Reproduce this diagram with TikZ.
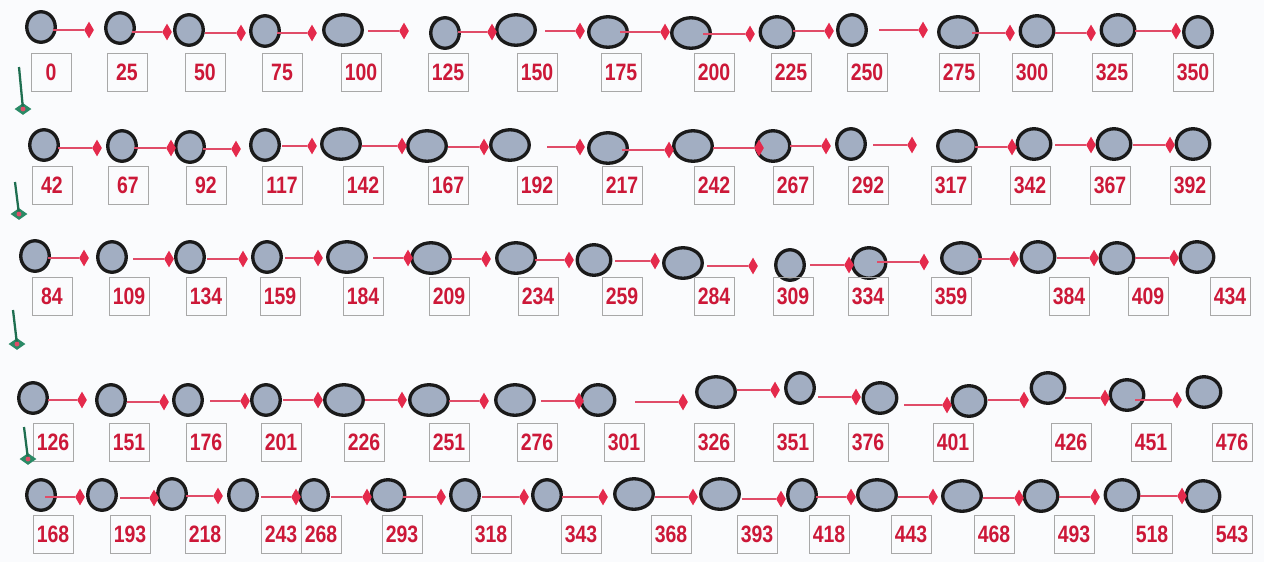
\documentclass[tikz,border=0pt]{standalone}
\usepackage{fontspec}
\usepackage{xcolor}
\usepackage{tikz}
\usetikzlibrary{shapes.geometric}
\newfontfamily\numfont{Liberation Sans}[FakeStretch=0.82]
\definecolor{ballfill}{HTML}{A2AEC2}
\definecolor{ballline}{HTML}{1A1A1A}
\definecolor{linkred}{HTML}{E04C68}
\definecolor{gemred}{HTML}{E42A4C}
\definecolor{numred}{HTML}{CC1838}
\definecolor{tagline}{HTML}{A8A8A8}
\definecolor{poleg}{HTML}{1E6E50}
\definecolor{footg}{HTML}{2A8A66}
\definecolor{paper}{HTML}{FAFBFD}
\pgfdeclarelayer{back}
\pgfsetlayers{back,main}

\begin{document}
\begin{tikzpicture}[
        x=0.02cm, y=-0.02cm,
        ball/.style={ellipse, draw=ballline, line width=1.9pt, fill=ballfill, inner sep=0pt, minimum height=0.61cm},
        nball/.style={ball, minimum width=0.57cm},
        mball/.style={ball, minimum width=0.67cm},
        wball/.style={ball, minimum width=0.77cm},
        gem/.style={diamond, fill=gemred, inner sep=0pt, minimum width=0.2cm, minimum height=0.34cm},
        link/.style={draw=linkred, line width=1.1pt},
        tag/.style={draw=tagline, line width=0.5pt, minimum width=0.8cm, minimum height=0.76cm, inner sep=0pt,
            text=numred, font=\numfont\bfseries\fontsize{13.5}{14}\selectfont},
        post/.style={draw=poleg, line width=1.3pt},
        foot/.style={diamond, fill=footg, inner sep=0pt, minimum width=0.34cm, minimum height=0.24cm},
    ]
    \begin{pgfonlayer}{back}
        \fill[paper] (0,0) rectangle (1264,562);
    \end{pgfonlayer}

    % balls with their links, one list per row
    \foreach \lab/\ex/\ey/\sh/\sx/\dx/\ly in {
            0/41/27/nball/53/89/30, 25/120/28/nball/132/167/32, 50/189/30/nball/205/241/33,
            75/265/31/nball/277/312/33, 100/343/30/wball/368/404/31, 125/445/33/nball/458/492/32,
            150/516/30/wball/545/580/31, 175/608/32/wball/620/665/32, 200/691/33/wball/703/750/34,
            225/777/32/mball/793/829/31, 250/852/30/nball/879/923/30, 275/958/32/wball/972/1010/33,
            300/1037/31/mball/1055/1091/33, 325/1118/30/mball/1135/1176/31,
            42/44/145/nball/58/97/148, 67/122/146/nball/134/171/148, 92/190/147/nball/203/236/149,
            117/265/145/nball/282/312/146, 142/341/144/wball/362/402/146, 167/427/146/wball/448/484/147,
            192/510/145/wball/547/580/147, 217/608/148/wball/622/669/150, 242/693/146/wball/713/759/148,
            267/773/146/mball/790/826/146, 292/851/144/nball/873/912/145, 317/957/146/wball/975/1012/147,
            342/1034/144/mball/1055/1091/145, 367/1114/144/mball/1133/1170/145,
            84/35/256/nball/48/84/258, 109/112/257/nball/133/169/259, 134/190/257/nball/207/243/259,
            159/267/257/nball/285/318/258, 184/347/257/wball/373/408/258, 209/431/258/wball/451/486/259,
            234/516/258/wball/535/569/260, 259/594/260/mball/615/655/261, 284/683/263/wball/707/753/266,
            309/790/265/nball/810/849/265, 334/869/263/mball/877/924/262, 359/961/258/wball/978/1014/259,
            384/1038/257/mball/1057/1094/258, 409/1117/258/mball/1135/1174/258,
            126/33/398/nball/48/82/400, 151/111/400/nball/127/164/402, 176/188/400/nball/210/245/401,
            201/266/400/nball/283/318/400, 226/344/400/wball/365/402/400, 251/429/400/wball/449/484/401,
            276/515/400/wball/541/579/401, 301/598/400/mball/635/683/402, 326/716/392/wball/737/775/390,
            351/800/388/nball/818/856/397, 376/880/398/mball/904/947/405, 401/969/401/mball/988/1024/400,
            426/1048/388/mball/1065/1105/398, 451/1127/395/mball/1135/1177/400,
            168/41/495/nball/45/80/497, 193/102/495/nball/120/154/498, 218/172/494/nball/186/218/496,
            243/243/495/nball/261/296/497, 268/314/495/nball/331/367/497, 293/388/495/mball/403/441/497,
            318/465/495/nball/482/524/497, 343/547/495/nball/562/603/497, 368/634/494/wball/655/693/497,
            393/720/494/wball/742/781/499, 418/802/495/nball/816/851/497, 443/877/495/wball/898/933/497,
            468/962/496/wball/983/1019/498, 493/1041/496/mball/1059/1095/497, 518/1122/495/mball/1140/1182/496}{
        \begin{pgfonlayer}{back}
            \node[\sh] (e\lab) at (\ex,\ey) {};
        \end{pgfonlayer}
        \coordinate (s\lab) at (\sx,\ly);
        \node[gem] (d\lab) at (\dx,\ly) {};
        \draw[link] (s\lab) -- (d\lab);
    }

    % last ball of each row has no link
    \foreach \lab/\ex/\ey/\sh in {350/1198/32/nball, 392/1193/144/mball, 434/1197/257/mball,
            476/1204/392/mball, 543/1203/496/mball}{
        \begin{pgfonlayer}{back}
            \node[\sh] (e\lab) at (\ex,\ey) {};
        \end{pgfonlayer}
    }

    % number boxes
    \foreach \lab/\bx in {0/51, 25/127, 50/205, 75/282, 100/361, 125/448, 150/537, 175/621,
            200/714, 225/791, 250/867, 275/959, 300/1032, 325/1112, 350/1193}
        \node[tag] (b\lab) at (\bx,72) {\lab};
    \foreach \lab/\bx in {42/52, 67/128, 92/206, 117/282, 142/363, 167/448, 192/537, 217/622,
            242/714, 267/793, 292/868, 317/951, 342/1030, 367/1110, 392/1190}
        \node[tag] (b\lab) at (\bx,185) {\lab};
    \foreach \lab/\bx in {84/52, 109/129, 134/206, 159/280, 184/363, 209/449, 234/538, 259/622,
            284/714, 309/793, 334/868, 359/951, 384/1069, 409/1148, 434/1230}
        \node[tag] (b\lab) at (\bx,296) {\lab};
    \foreach \lab/\bx in {126/53, 151/129, 176/206, 201/281, 226/364, 251/449, 276/537, 301/624,
            326/714, 351/793, 376/868, 401/953, 426/1071, 451/1151, 476/1232}
        \node[tag] (b\lab) at (\bx,442) {\lab};
    \foreach \lab/\bx in {168/53, 193/130, 218/205, 243/281, 268/321, 293/402, 318/491, 343/581,
            368/671, 393/757, 418/829, 443/911, 468/994, 493/1074, 518/1152, 543/1232}
        \node[tag] (b\lab) at (\bx,534) {\lab};

    % green markers on the left
    \foreach \m/\px/\py/\fx/\fy in {1/19/67/23/109, 2/15/182/19/214, 3/13/310/17/344, 4/24/427/28/459}{
        \node[foot] (f\m) at (\fx,\fy) {};
        \coordinate (p\m) at (\px,\py);
        \draw[post] (p\m) -- (f\m.center);
        \fill[linkred] (f\m) circle (1.4pt);
    }
\end{tikzpicture}
\end{document}
